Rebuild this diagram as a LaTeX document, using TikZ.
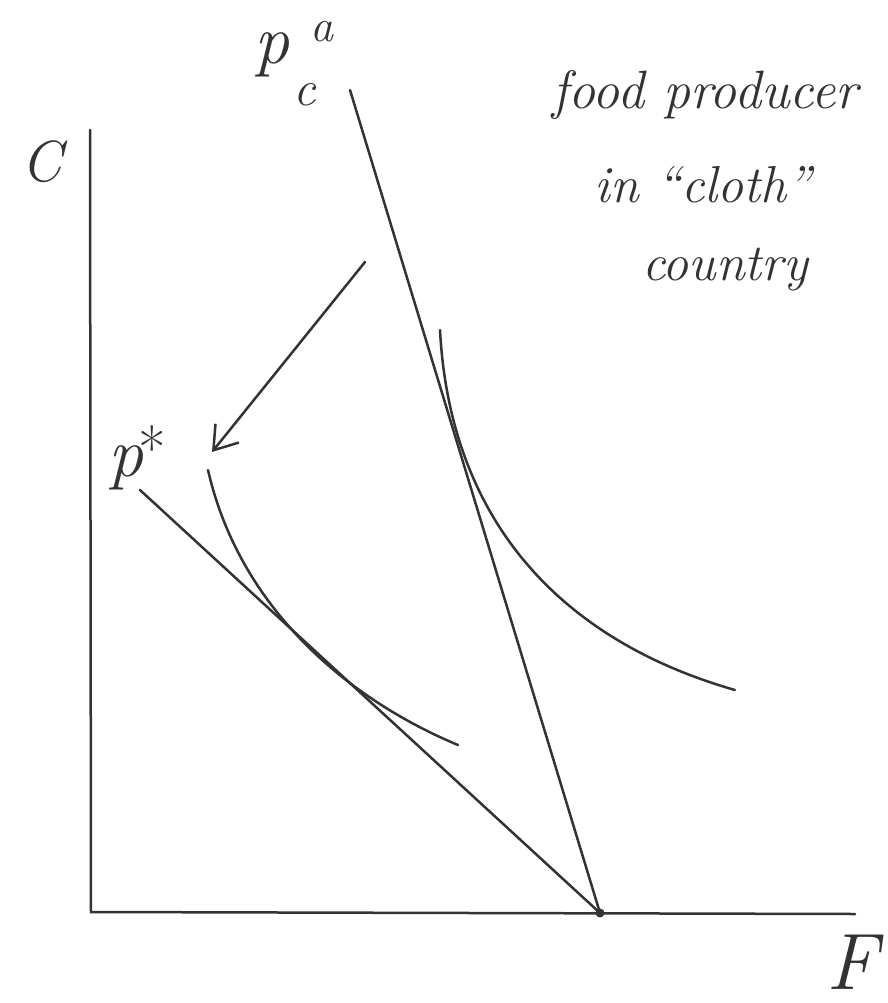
\documentclass[tikz,border=0pt]{standalone}
\usetikzlibrary{arrows.meta}
\begin{document}
\begin{tikzpicture}[x=1pt,y=-1pt,
  pen/.style={draw=black!80,line width=2.5pt,line cap=round},
  lbl/.style={text=black!80,inner sep=0pt,font=\itshape},
  ]
\useasboundingbox (0,0) rectangle (887,1003);
% axes
\coordinate (ytop) at (90,130);
\coordinate (origin) at (91,912);
\coordinate (xend) at (855,914);
\coordinate (E) at (600,913);
\draw[pen] (ytop) -- (origin) -- (xend);
\node[lbl,font=\itshape\fontsize{58}{60}\selectfont] (Clab) at (42,162) {C};
\node[lbl,font=\itshape\fontsize{80}{80}\selectfont] (Flab) at (852,962) {F};
% price lines
\coordinate (pa) at (350,90);
\coordinate (ps) at (140,490);
\draw[pen] (pa) -- (E);
\draw[pen] (ps) -- (E);
\fill[black!80] (E) circle (4.5);
% indifference curves
\coordinate (u1) at (440,330);
\coordinate (u2) at (735,690);
\draw[pen] (u1) .. controls (450,520) and (560,640) .. (u2);
\coordinate (l1) at (208,470);
\coordinate (l2) at (458,745);
\draw[pen] (l1) .. controls (240,610) and (350,700) .. (l2);
% arrow
\coordinate (a1) at (365,262);
\coordinate (a2) at (212,452);
\draw[pen,-{Straight Barb[length=22pt,width=30pt,line width=2.5pt]}] (a1) -- (a2);
% labels
\node[lbl,font=\itshape\fontsize{70}{70}\selectfont] (pca) at (272,55) {p};
\node[lbl,font=\itshape\fontsize{50}{50}\selectfont] (pcc) at (305,95) {c};
\node[lbl,font=\itshape\fontsize{46}{46}\selectfont] (pcaa) at (322,32) {a};
\node[lbl,font=\itshape\fontsize{70}{70}\selectfont] (pst) at (126,468) {p};
\node[lbl,font=\fontsize{60}{60}\selectfont] (star) at (152,448) {*};
\node[lbl,font=\itshape\fontsize{54}{54}\selectfont] (t1) at (705,95) {food producer};
\node[lbl,font=\itshape\fontsize{52}{52}\selectfont] (t2) at (703,185) {in ``cloth''};
\node[lbl,font=\itshape\fontsize{52}{52}\selectfont] (t3) at (725,270) {country};
\end{tikzpicture}
\end{document}
